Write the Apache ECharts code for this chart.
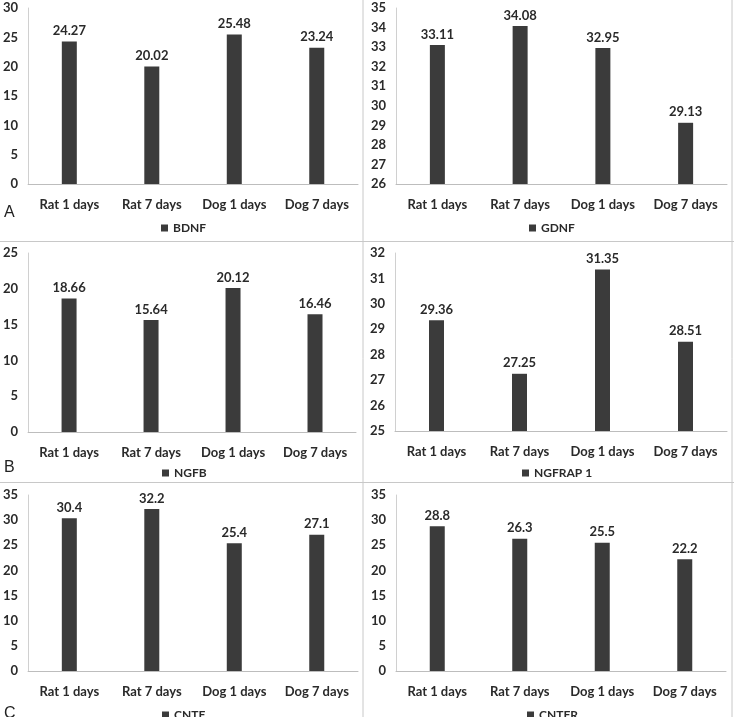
<!DOCTYPE html>
<html>
<head>
<meta charset="utf-8">
<script src="https://cdn.jsdelivr.net/npm/echarts@6/dist/echarts.min.js"></script>
<style>
html, body { margin: 0; padding: 0; background: #fff; }
#chart { width: 734px; height: 717px; }
</style>
</head>
<body>
<div id="chart"></div>
<script>
// categories shared by every panel
var categories = ['Rat 1 days', 'Rat 7 days', 'Dog 1 days', 'Dog 7 days'];

// one series per panel
var bdnf = [24.27, 20.02, 25.48, 23.24];
var gdnf = [33.11, 34.08, 32.95, 29.13];
var ngfb = [18.66, 15.64, 20.12, 16.46];
var ngfrap1 = [29.36, 27.25, 31.35, 28.51];
var cntf = [30.4, 32.2, 25.4, 27.1];
var cntfr = [28.8, 26.3, 25.5, 22.2];

var seriesNames = ['BDNF', 'GDNF', 'NGFB', 'NGFRAP 1', 'CNTF', 'CNTFR'];
var seriesData = [bdnf, gdnf, ngfb, ngfrap1, cntf, cntfr];
var yMin = [0, 26, 0, 25, 0, 0];
var yMax = [30, 35, 25, 32, 35, 35];
var yStep = [5, 1, 5, 1, 5, 5];

// panel layout (px)
var grids = [
	{ left: 27, top: 8, width: 331, height: 176 },
	{ left: 396, top: 8, width: 331, height: 176 },
	{ left: 28, top: 253, width: 328, height: 179 },
	{ left: 395, top: 253, width: 332, height: 178 },
	{ left: 28, top: 495, width: 330, height: 176 },
	{ left: 396, top: 495, width: 330, height: 176 }
];
var legendTop = [222, 222, 467, 467, 709, 709];
var legendLeft = [161, 529, 162, 522, 162, 527];

var font = "Lato, 'Liberation Sans', sans-serif";
var barColor = '#3b3b3b';

var myChart = echarts.init(document.getElementById('chart'));

var option = {
	backgroundColor: '#fff',
	animation: false,
	grid: grids,
	xAxis: [],
	yAxis: [],
	series: [],
	legend: [],
	graphic: [
		// panel frame lines
		{ type: 'line', shape: { x1: 363, y1: 0, x2: 363, y2: 717 }, style: { stroke: '#c8c8c8', lineWidth: 1 } },
		{ type: 'line', shape: { x1: 732, y1: 0, x2: 732, y2: 717 }, style: { stroke: '#c8c8c8', lineWidth: 1 } },
		{ type: 'line', shape: { x1: 0, y1: 241.5, x2: 734, y2: 241.5 }, style: { stroke: '#c8c8c8', lineWidth: 1 } },
		{ type: 'line', shape: { x1: 0, y1: 482.5, x2: 734, y2: 482.5 }, style: { stroke: '#c8c8c8', lineWidth: 1 } },
		// panel letters
		{ type: 'text', left: 4, top: 205, style: { text: 'A', font: '16px "Liberation Sans", Arial', fill: '#222' } },
		{ type: 'text', left: 4, top: 460, style: { text: 'B', font: '16px "Liberation Sans", Arial', fill: '#222' } },
		{ type: 'text', left: 4, top: 706, style: { text: 'C', font: '16px "Liberation Sans", Arial', fill: '#222' } }
	]
};

for (var i = 0; i < 6; i++) {
	option.xAxis.push({
		type: 'category',
		gridIndex: i,
		data: categories,
		axisLine: { lineStyle: { color: '#bdbdbd', width: 1 } },
		axisTick: { show: false },
		axisLabel: { interval: 0, color: '#2a2a2a', fontFamily: font, fontWeight: 'bold', fontSize: 13, margin: 14 }
	});
	option.yAxis.push({
		type: 'value',
		gridIndex: i,
		min: yMin[i],
		max: yMax[i],
		interval: yStep[i],
		axisLine: { show: true, lineStyle: { color: '#d0d0d0', width: 1 } },
		axisTick: { show: false },
		splitLine: { show: false },
		axisLabel: { color: '#2a2a2a', fontFamily: font, fontWeight: 'bold', fontSize: 13, margin: 10 }
	});
	option.series.push({
		name: seriesNames[i],
		type: 'bar',
		xAxisIndex: i,
		yAxisIndex: i,
		data: seriesData[i],
		barWidth: 15,
		itemStyle: { color: barColor },
		label: {
			show: true,
			position: 'top',
			distance: 4,
			color: '#2a2a2a',
			fontFamily: font,
			fontWeight: 'bold',
			fontSize: 13
		}
	});
	option.legend.push({
		data: [seriesNames[i]],
		left: legendLeft[i],
		top: legendTop[i],
		padding: 0,
		icon: 'rect',
		itemWidth: 7,
		itemHeight: 7,
		itemGap: 5,
		textStyle: { color: '#2a2a2a', fontFamily: font, fontWeight: 'bold', fontSize: 12 }
	});
}

myChart.setOption(option);
</script>
</body>
</html>
